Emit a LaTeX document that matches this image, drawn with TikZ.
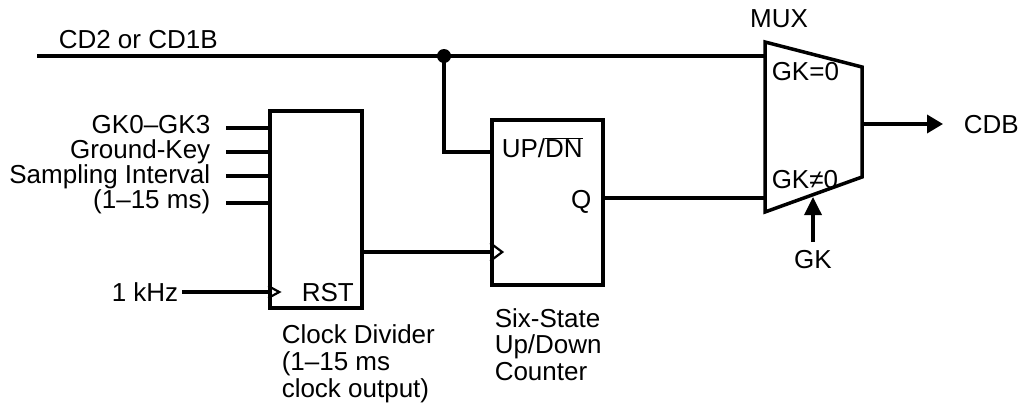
\documentclass[tikz,border=0pt]{standalone}
\usepackage{fontspec}
\setmainfont{Liberation Sans}
\usetikzlibrary{arrows.meta}
\begin{document}
\begin{tikzpicture}[x=1pt,y=-1pt, line width=3.5pt,
  lbl/.style={inner sep=0pt, font=\fontsize{26}{30}\selectfont},
  blk/.style={draw, rectangle, inner sep=0pt, line width=3.5pt},
  arr/.style={-{Triangle[length=16pt,width=18pt]}},
  clk/.style={line width=2.2pt, line join=miter}]
\useasboundingbox (0,0) rectangle (1019,410);

% blocks
\node[blk, minimum width=92pt, minimum height=197pt] (div) at (316,209.5) {};
\node[blk, minimum width=111pt, minimum height=165pt] (cnt) at (547.5,202.5) {};
% mux
\coordinate (mtl) at (765,42);
\coordinate (mtr) at (862,67);
\coordinate (mbr) at (862,177);
\coordinate (mbl) at (765,212);
\draw[line join=miter] (mtl) -- (mtr) -- (mbr) -- (mbl) -- cycle;
\coordinate (min0) at (765,56);
\coordinate (min1) at (765,198);
\coordinate (mout) at (862,124);
\coordinate (msel) at (813,197);

% texts
\node[lbl, anchor=base west] (cdtxt) at (57,48) {CD2 or CD1B};
\node[lbl, anchor=base east] (gk03) at (212,133) {GK0–GK3};
\node[lbl, anchor=base east] (gkey) at (212,158) {Ground-Key};
\node[lbl, anchor=base east] (samp) at (212,183) {Sampling Interval};
\node[lbl, anchor=base east] (ms) at (212,208) {(1–15 ms)};
\node[lbl, anchor=base east] (khz) at (180,301) {1 kHz};
\node[lbl, anchor=base west] (rst) at (300,301) {RST};
\node[lbl, anchor=base west] (updn) at (500,157) {UP/$\overline{\mbox{DN}}$};
\node[lbl, anchor=base east] (q) at (593,208) {Q};
\node[lbl, anchor=base] (mux) at (779,27) {MUX};
\node[lbl, anchor=base west] (gk0) at (770,80) {GK=0};
\node[lbl, anchor=base west] (gkn0) at (770,188) {GK≠0};
\node[lbl, anchor=base west] (cdb) at (962,133) {CDB};
\node[lbl, anchor=base] (gk) at (813,268) {GK};
\node[lbl, anchor=base west] (cd1) at (280,343) {Clock Divider};
\node[lbl, anchor=base west] (cd2) at (280,370) {(1–15 ms};
\node[lbl, anchor=base west] (cd3) at (280,397) {clock output)};
\node[lbl, anchor=base west] (ss1) at (493,327) {Six-State};
\node[lbl, anchor=base west] (ss2) at (493,353) {Up/Down};
\node[lbl, anchor=base west] (ss3) at (493,380) {Counter};

% input stubs
\coordinate (s1) at (226,128);
\coordinate (s2) at (226,152);
\coordinate (s3) at (226,176);
\coordinate (s4) at (226,203);
\foreach \s in {s1,s2,s3,s4} \draw (\s) -- (\s -| div.west) -- ++(2,0);
\coordinate (k1) at (182,292);
\draw (k1) -- (k1 -| div.west);
\draw[clk] (div.west |- k1) ++(0,-6) -- ++(11,6) -- ++(-11,6);

% top line
\coordinate (cdstart) at (37,56);
\coordinate (junc) at (444,56);
\draw (cdstart) -- (min0);
\fill (junc) circle (7pt);
\coordinate (updnin) at (492,152);
\draw (junc) -- (junc |- updnin) -- (cnt.west |- updnin);

% divider -> counter
\coordinate (ck) at (492,252);
\draw (div.east |- ck) -- (cnt.west |- ck);
\draw[clk] (cnt.west |- ck) ++(0,-9) -- ++(12,9) -- ++(-12,9);

% Q -> mux
\draw (cnt.east |- min1) -- (min1);

% mux out
\coordinate (outtip) at (943,124);
\draw[arr] (mout) -- (outtip);
\coordinate (gkb) at (813,242);
\draw[-{Triangle[length=18pt,width=17pt]}] (gkb) -- (msel);
\end{tikzpicture}
\end{document}
